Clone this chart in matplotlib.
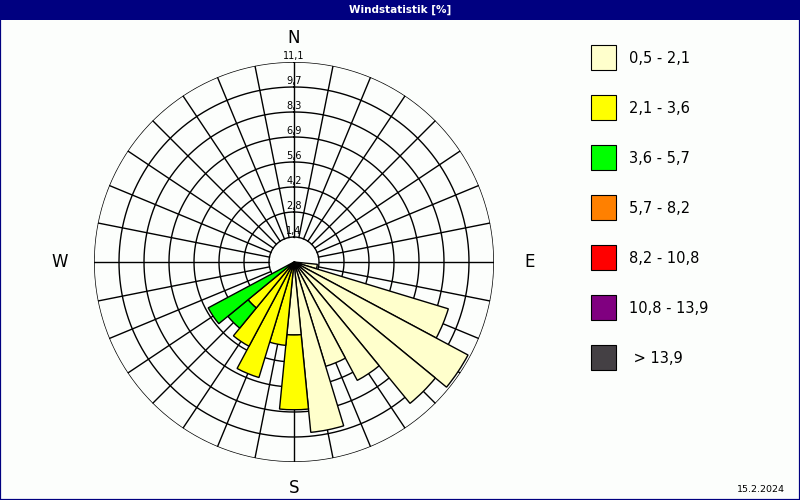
import matplotlib
matplotlib.use('Agg')
import matplotlib.pyplot as plt
import numpy as np
from matplotlib.patches import Rectangle

# wind directions (compass degrees) of the drawn sectors, 32-sector rose
directions = [101.25, 112.5, 123.75, 135.0, 146.25, 157.5, 168.75,
              180.0, 191.25, 202.5, 213.75, 225.0, 236.25]

# share per speed class [%], stacked from the centre outwards
cls_05_21 = [1.3, 8.95, 10.95, 10.15, 7.45, 6.05, 9.5, 4.05, 0, 0, 0, 0, 0]
cls_21_36 = [0, 0, 0, 0, 0, 0, 0, 4.15, 4.65, 6.7, 5.3, 3.3, 0]
cls_36_57 = [0, 0, 0, 0, 0, 0, 0, 0, 0, 0, 0, 1.45, 5.4]
cls_57_82 = [0] * 13
cls_82_108 = [0] * 13
cls_108_139 = [0] * 13
cls_139 = [0] * 13

class_labels = ['0,5 - 2,1', '2,1 - 3,6', '3,6 - 5,7', '5,7 - 8,2',
                '8,2 - 10,8', '10,8 - 13,9', ' > 13,9']
class_colors = ['#FFFFCC', '#FFFF00', '#00FF00', '#FF8000',
                '#FF0000', '#800080', '#444044']

ring_labels = ['1,4', '2,8', '4,2', '5,6', '6,9', '8,3', '9,7', '11,1']
r_max = 11.1
compass = ['N', 'E', 'S', 'W']
date_text = '15.2.2024'

bg = '#FCFEFC'
navy = '#000080'
plt.rcParams['font.family'] = 'DejaVu Sans'

fig = plt.figure(figsize=(8, 5), dpi=100, facecolor=bg)

# title bar and frame
fig.patches.append(Rectangle((0, 1 - 20 / 500), 1, 20 / 500, transform=fig.transFigure,
                             facecolor=navy, edgecolor='none'))
fig.patches.append(Rectangle((0, 0), 1, 1, transform=fig.transFigure,
                             facecolor='none', edgecolor=navy, linewidth=1.6))
fig.text(0.5, 1 - 10 / 500, 'Windstatistik [%]', color='white', fontsize=7.5,
         weight='bold', ha='center', va='center')

ax = fig.add_axes([0.1175, 0.076, 0.5, 0.8], projection='polar')
ax.set_theta_zero_location('N')
ax.set_theta_direction(-1)
ax.set_ylim(0, r_max)
ax.axis('off')

# grid: rings and spokes (spokes stop at the calm circle)
rings = np.linspace(r_max / len(ring_labels), r_max, len(ring_labels))
th = np.linspace(0, 2 * np.pi, 500)
for r in rings:
    ax.plot(th, np.full_like(th, r), color='black', lw=1.0, zorder=1)
for a in np.arange(0, 360, 11.25):
    ax.plot([np.deg2rad(a)] * 2, [rings[0], r_max], color='black', lw=1.0, zorder=1)

# stacked sectors
series = [cls_05_21, cls_21_36, cls_36_57, cls_57_82, cls_82_108, cls_108_139, cls_139]
theta = np.deg2rad(directions)
bottom = np.zeros(len(directions))
for vals, col in zip(series, class_colors):
    vals = np.array(vals, dtype=float)
    m = vals > 0
    if m.any():
        ax.bar(theta[m], vals[m], width=np.deg2rad(11.25), bottom=bottom[m],
               color=col, edgecolor='black', linewidth=1.0, zorder=3)
    bottom += vals

for r, lab in zip(rings, ring_labels):
    ax.annotate(lab, (0, r), xytext=(0, 1), textcoords='offset points',
                ha='center', va='bottom', fontsize=7, zorder=5)

for ang, lab, rr in zip([0, 90, 180, 270], compass, [12.45, 13.1, 12.55, 13.0]):
    ax.text(np.deg2rad(ang), rr, lab, ha='center', va='center', fontsize=12,
            clip_on=False)

# legend
for i, (lab, col) in enumerate(zip(class_labels, class_colors)):
    top = 45 + 50 * i
    fig.patches.append(Rectangle((591 / 800, 1 - (top + 25) / 500), 25 / 800, 25 / 500,
                                 transform=fig.transFigure, facecolor=col,
                                 edgecolor='black', linewidth=0.8))
    fig.text(629 / 800, 1 - (top + 13.5) / 500, lab, fontsize=10.5,
             ha='left', va='center')

fig.text(785 / 800, 1 - 489 / 500, date_text, fontsize=6.8, ha='right', va='center')

fig.savefig('out.png', dpi=100, facecolor=bg)
